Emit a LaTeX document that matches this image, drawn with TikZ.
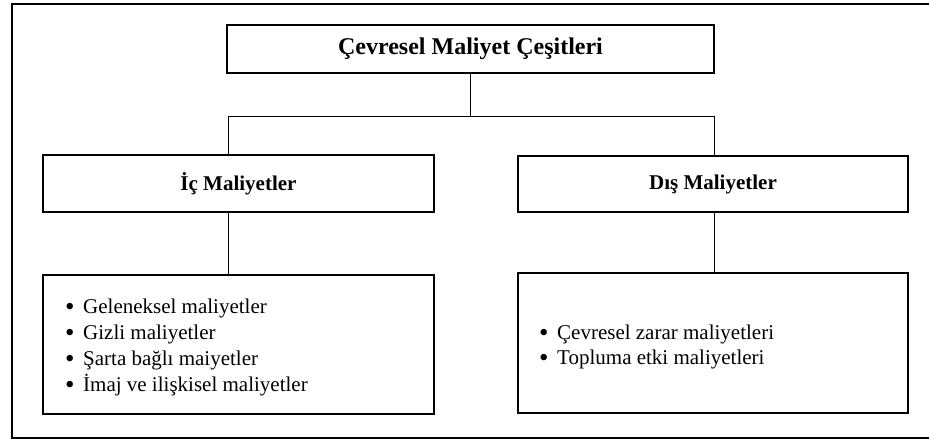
\documentclass[tikz,border=0pt]{standalone}
\usepackage{fontspec}
\setmainfont{Liberation Serif}
\newcommand{\itembullet}{\makebox[18pt][l]{\raisebox{-2.5pt}{\fontsize{27}{27}\selectfont\textbullet}}}
\begin{document}
\begin{tikzpicture}[x=1pt,y=-1pt,
  box/.style={draw,line width=1.8pt,inner sep=0pt,rectangle},
  head/.style={box,font=\fontsize{21}{25}\selectfont\bfseries},
  link/.style={line width=1pt},
  item/.style={anchor=base west,inner sep=0pt,font=\fontsize{21}{25}\selectfont}]
  \useasboundingbox (0,0) rectangle (929,439);
  \clip (0,0) rectangle (929,439);
  % outer frame, running past the right edge
  \draw[line width=2pt] (12,4) rectangle (960,437.5);

  % boxes
  \node[head,font=\fontsize{24}{28}\selectfont\bfseries,minimum width=487pt,minimum height=48pt] (top) at (470.5,49) {Çevresel Maliyet Çeşitleri};
  \node[head,minimum width=391pt,minimum height=57pt] (ic) at (238.5,183.5) {İç Maliyetler};
  \node[head,minimum width=390pt,minimum height=56pt] (dis) at (713,184) {Dış Maliyetler};
  \node[box,minimum width=391pt,minimum height=139pt] (icl) at (238.5,344.5) {};
  \node[box,minimum width=390pt,minimum height=140pt] (disl) at (713,343) {};

  % connectors
  \coordinate (busL) at (228,116);
  \coordinate (busR) at (714,116);
  \draw[link] (top.south) -- (top.south |- busL);
  \draw[link] (ic.north -| busL) -- (busL) -- (busR) -- (dis.north -| busR);
  \draw[link] (ic.south -| busL) -- (icl.north -| busL);
  \draw[link] (dis.south -| busR) -- (disl.north -| busR);

  % item lists
  \node[item] (i1) at (65,313) {\itembullet Geleneksel maliyetler};
  \node[item] (i2) at (65,339) {\itembullet Gizli maliyetler};
  \node[item] (i3) at (65,365) {\itembullet Şarta bağlı maiyetler};
  \node[item] (i4) at (65,391) {\itembullet İmaj ve ilişkisel maliyetler};
  \node[item] (d1) at (539,339) {\itembullet Çevresel zarar maliyetleri};
  \node[item] (d2) at (539,364) {\itembullet Topluma etki maliyetleri};
\end{tikzpicture}
\end{document}
